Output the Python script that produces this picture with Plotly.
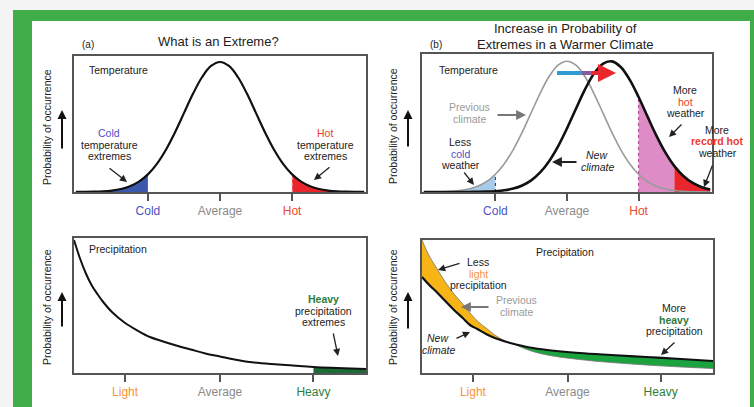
import plotly.graph_objects as go

W, H = 754, 407
FONT = "Liberation Sans, Arial, sans-serif"

# ---------------- data ----------------
temp_x = [-4.0, -3.75, -3.5, -3.25, -3.0, -2.75, -2.5, -2.25, -2.0, -1.75, -1.5, -1.25,
          -1.0, -0.75, -0.5, -0.25, 0.0, 0.25, 0.5, 0.75, 1.0, 1.25, 1.5, 1.75,
          2.0, 2.25, 2.5, 2.75, 3.0, 3.25, 3.5, 3.75, 4.0]
# previous / present-day temperature distribution
temp_prev = [0.0003, 0.0009, 0.0022, 0.0051, 0.0111, 0.0228, 0.0439, 0.0796, 0.1353, 0.2163,
             0.3247, 0.4578, 0.6065, 0.7548, 0.8825, 0.9692, 1.0, 0.9692, 0.8825, 0.7548,
             0.6065, 0.4578, 0.3247, 0.2163, 0.1353, 0.0796, 0.0439, 0.0228, 0.0111, 0.0051,
             0.0022, 0.0009, 0.0003]
# warmer (new) climate distribution
temp_new = [0.0, 0.0, 0.0, 0.0001, 0.0002, 0.0004, 0.0011, 0.0026, 0.0060, 0.0129,
            0.0261, 0.0497, 0.0889, 0.1494, 0.2357, 0.3493, 0.4868, 0.6368, 0.7827, 0.9037,
            0.9802, 0.9988, 0.9560, 0.8596, 0.7261, 0.5762, 0.4296, 0.3008, 0.1979, 0.1223,
            0.0710, 0.0387, 0.0198]
temp_tickvals = [-2, 0, 2]
temp_ticklabels = ["Cold", "Average", "Hot"]
temp_tickcolors = ["#4b52c4", "#8a8a8a", "#ee4a2c"]

precip_x_a = [0, 2, 4, 6, 8, 10, 13, 17.5, 22, 26, 30, 35, 40, 45, 50, 55, 60, 70, 82, 90, 100]
precip_a = [133, 115, 100, 88, 79, 71, 61, 50, 42, 36, 32, 27.5, 23.5, 19.5, 16.5, 13.5, 11,
            8.5, 6, 5, 4]

precip_x_b = [0, 2.5, 5, 8, 11, 14, 16.5, 19, 22, 25, 28, 31, 37, 43, 54, 65, 77, 89, 100]
precip_prev = [133, 117, 105, 91, 79, 69, 60, 52, 45, 38, 33, 29.5, 22.5, 18, 13.5, 10.5, 8, 6, 4.5]
precip_new = [96, 88, 81, 72, 63, 55, 48, 44, 39, 35, 32, 29.5, 25.5, 23, 20, 18, 16, 14, 12]
precip_tickvals = [17.5, 50, 82]
precip_ticklabels = ["Light", "Average", "Heavy"]
precip_tickcolors = ["#f7943a", "#8a8a8a", "#2e7d3c"]

# thresholds on the x grids
COLD_T, HOT_T, RECORD_T = -2.0, 2.0, 3.0
HEAVY_A = 82
CROSS_B = 31


def fx(px):
    return px / W


def fy(py):
    return 1 - py / H


fig = go.Figure()


def sub(xs, ys, cond):
    xx = [x for x in xs if cond(x)]
    yy = [y for x, y in zip(xs, ys) if cond(x)]
    return xx, yy


# ---------------- panel (a) temperature ----------------
xs, ys = sub(temp_x, temp_prev, lambda v: v <= COLD_T)
fig.add_trace(go.Scatter(x=xs, y=ys, xaxis="x", yaxis="y", mode="lines", line=dict(width=0, shape="spline"),
                         fill="tozeroy", fillcolor="#3b58ad"))
xs, ys = sub(temp_x, temp_prev, lambda v: v >= HOT_T)
fig.add_trace(go.Scatter(x=xs, y=ys, xaxis="x", yaxis="y", mode="lines", line=dict(width=0, shape="spline"),
                         fill="tozeroy", fillcolor="#e8262b"))
i2 = temp_x.index(HOT_T)
fig.add_trace(go.Scatter(x=[temp_x[i2], temp_x[i2]], y=[0, temp_prev[i2]], xaxis="x", yaxis="y", mode="lines",
                         line=dict(color="#f6b0b0", width=1, dash="dot")))
fig.add_trace(go.Scatter(x=temp_x, y=temp_prev, xaxis="x", yaxis="y", mode="lines",
                         line=dict(color="#111", width=2.2, shape="spline")))

# ---------------- panel (b) temperature ----------------
xs, ys = sub(temp_x, temp_prev, lambda v: v <= COLD_T)
fig.add_trace(go.Scatter(x=xs, y=ys, xaxis="x2", yaxis="y2", mode="lines", line=dict(width=0, shape="spline"),
                         fill="tozeroy", fillcolor="#a9cbea"))
xs, ys = sub(temp_x, temp_new, lambda v: HOT_T <= v <= RECORD_T)
fig.add_trace(go.Scatter(x=xs, y=ys, xaxis="x2", yaxis="y2", mode="lines", line=dict(width=0, shape="spline"),
                         fill="tozeroy", fillcolor="#de8cc6"))
xs, ys = sub(temp_x, temp_new, lambda v: v >= RECORD_T)
fig.add_trace(go.Scatter(x=xs, y=ys, xaxis="x2", yaxis="y2", mode="lines", line=dict(width=0, shape="spline"),
                         fill="tozeroy", fillcolor="#e8262b"))
ic = temp_x.index(COLD_T)
fig.add_trace(go.Scatter(x=[temp_x[ic], temp_x[ic]], y=[0, temp_prev[ic]], xaxis="x2", yaxis="y2", mode="lines",
                         line=dict(color="#333", width=1, dash="dot")))
fig.add_trace(go.Scatter(x=[temp_x[i2], temp_x[i2]], y=[0, temp_new[i2]], xaxis="x2", yaxis="y2", mode="lines",
                         line=dict(color="#b0368e", width=1, dash="dot")))
fig.add_trace(go.Scatter(x=temp_x, y=temp_prev, xaxis="x2", yaxis="y2", mode="lines",
                         line=dict(color="#9a9a9a", width=1.6, shape="spline")))
fig.add_trace(go.Scatter(x=temp_x, y=temp_new, xaxis="x2", yaxis="y2", mode="lines",
                         line=dict(color="#111", width=2.6, shape="spline")))

# ---------------- panel (a) precipitation ----------------
xs, ys = sub(precip_x_a, precip_a, lambda v: v >= HEAVY_A)
fig.add_trace(go.Scatter(x=xs, y=ys, xaxis="x3", yaxis="y3", mode="lines", line=dict(width=0, shape="spline"),
                         fill="tozeroy", fillcolor="#1d6b36"))
fig.add_trace(go.Scatter(x=precip_x_a, y=precip_a, xaxis="x3", yaxis="y3", mode="lines",
                         line=dict(color="#111", width=2, shape="spline")))

# ---------------- panel (b) precipitation ----------------
xs, ys = sub(precip_x_b, precip_new, lambda v: v <= CROSS_B)
fig.add_trace(go.Scatter(x=xs, y=ys, xaxis="x4", yaxis="y4", mode="lines", line=dict(width=0, shape="spline")))
xs, ys = sub(precip_x_b, precip_prev, lambda v: v <= CROSS_B)
fig.add_trace(go.Scatter(x=xs, y=ys, xaxis="x4", yaxis="y4", mode="lines", line=dict(width=0, shape="spline"),
                         fill="tonexty", fillcolor="#f6b417"))
xs, ys = sub(precip_x_b, precip_prev, lambda v: v >= CROSS_B)
fig.add_trace(go.Scatter(x=xs, y=ys, xaxis="x4", yaxis="y4", mode="lines", line=dict(width=0, shape="spline")))
xs, ys = sub(precip_x_b, precip_new, lambda v: v >= CROSS_B)
fig.add_trace(go.Scatter(x=xs, y=ys, xaxis="x4", yaxis="y4", mode="lines", line=dict(width=0, shape="spline"),
                         fill="tonexty", fillcolor="#1aa33e"))
fig.add_trace(go.Scatter(x=precip_x_b, y=precip_prev, xaxis="x4", yaxis="y4", mode="lines",
                         line=dict(color="#777", width=0.8, shape="spline")))
fig.add_trace(go.Scatter(x=precip_x_b, y=precip_new, xaxis="x4", yaxis="y4", mode="lines",
                         line=dict(color="#111", width=2.2, shape="spline")))


def colored(labels, colors):
    return [f"<span style='color:{c}'>{t}</span>" for t, c in zip(labels, colors)]


axis_common = dict(showline=True, mirror=True, linecolor="#555", linewidth=1.6, showgrid=False,
                   zeroline=False, fixedrange=True)
xcommon = dict(axis_common, ticks="outside", ticklen=7, tickwidth=1.6, tickcolor="#555",
               tickfont=dict(family=FONT, size=12))
ycommon = dict(axis_common, showticklabels=False, ticks="")

layout = dict(
    width=W, height=H, margin=dict(l=0, r=0, t=0, b=0), showlegend=False,
    paper_bgcolor="#f4f4f4", plot_bgcolor="rgba(0,0,0,0)",
    font=dict(family=FONT, color="#222"),
    xaxis=dict(xcommon, domain=[fx(74), fx(366)], range=[-4.05, 4.05], anchor="y",
               tickvals=temp_tickvals, ticktext=colored(temp_ticklabels, temp_tickcolors)),
    yaxis=dict(ycommon, domain=[fy(192), fy(56)], range=[0, 1.046], anchor="x"),
    xaxis2=dict(xcommon, domain=[fx(422), fx(712)], range=[-4.05, 4.05], anchor="y2",
                tickvals=temp_tickvals, ticktext=colored(temp_ticklabels, temp_tickcolors)),
    yaxis2=dict(ycommon, domain=[fy(192), fy(54)], range=[0, 1.055], anchor="x2"),
    xaxis3=dict(xcommon, domain=[fx(74), fx(366)], range=[0, 100], anchor="y3",
                tickvals=precip_tickvals, ticktext=colored(precip_ticklabels, precip_tickcolors)),
    yaxis3=dict(ycommon, domain=[fy(373), fy(238)], range=[0, 135], anchor="x3"),
    xaxis4=dict(xcommon, domain=[fx(422), fx(713)], range=[0, 100], anchor="y4",
                tickvals=precip_tickvals, ticktext=colored(precip_ticklabels, precip_tickcolors)),
    yaxis4=dict(ycommon, domain=[fy(373), fy(240)], range=[0, 133], anchor="x4"),
)

shapes = [
    dict(type="rect", xref="paper", yref="paper", x0=fx(13), x1=fx(754), y0=0, y1=fy(10),
         fillcolor="#3fae49", line=dict(width=0), layer="below"),
    dict(type="rect", xref="paper", yref="paper", x0=fx(32), x1=fx(750), y0=0, y1=fy(21),
         fillcolor="#ffffff", line=dict(width=0), layer="below"),
    # blue part of the warming shift arrow
    dict(type="line", xref="paper", yref="paper", x0=fx(557), x1=fx(584), y0=fy(73), y1=fy(73),
         line=dict(color="#2f9bd3", width=4)),
    dict(type="line", xref="paper", yref="paper", x0=fx(582), x1=fx(592), y0=fy(73), y1=fy(73),
         line=dict(color="#8a5a9a", width=4)),
]

anns = []


def txt(x, y, s, size=10.5, color="#222", anchor="center", **kw):
    anns.append(dict(x=fx(x), y=fy(y), xref="paper", yref="paper", text=s, showarrow=False,
                     font=dict(family=FONT, size=size, color=color), xanchor=anchor, yanchor="middle", **kw))


def lines(x, y0, items, step=11.5, size=10.5):
    for k, it in enumerate(items):
        if isinstance(it, tuple):
            s, c = it
        else:
            s, c = it, "#222"
        txt(x, y0 + k * step, s, size=size, color=c)


def arrow(x0, y0, x1, y1, color="#222", width=1.3, size=1.1):
    anns.append(dict(x=fx(x1), y=fy(y1), xref="paper", yref="paper", ax=x0 - x1, ay=y0 - y1,
                     text="", showarrow=True, arrowhead=2, arrowsize=size, arrowwidth=width,
                     arrowcolor=color))


# titles
txt(80, 44, "(a)", size=10, anchor="left")
txt(218, 42, "What is an Extreme?", size=13)
txt(428, 44, "(b)", size=10, anchor="left")
txt(565, 29, "Increase in Probability of", size=13)
txt(565, 45, "Extremes in a Warmer Climate", size=13)

# y labels and arrows
for (xl, yc, xa, ya0, ya1) in [(47, 127, 62, 150, 110), (47, 307, 62, 328, 292),
                                (393, 126, 408, 148, 110), (393, 307, 408, 330, 292)]:
    txt(xl, yc, "Probability of occurrence", size=10.5, textangle=-90)
    arrow(xa, ya0, xa, ya1, color="#111", width=2, size=0.9)

# panel (a) temperature
txt(87, 70, "Temperature", size=10.5, anchor="left")
lines(109, 133, [("Cold", "#4b52c4"), "temperature", "extremes"])
arrow(108, 167, 127, 182)
lines(325, 133, [("Hot", "#ee3b2c"), "temperature", "extremes"])
arrow(331, 166, 314, 180)

# panel (a) precipitation
txt(87, 249, "Precipitation", size=10.5, anchor="left")
lines(323, 299, [("<b>Heavy</b>", "#2e7d3c"), "precipitation", "extremes"])
arrow(333, 332, 338, 356)

# panel (b) temperature
txt(437, 70, "Temperature", size=10.5, anchor="left")
lines(470, 107, [("Previous", "#9a9a9a"), ("climate", "#9a9a9a")])
arrow(496, 115, 526, 115, color="#777", width=1.8)
lines(460, 142, ["Less", ("cold", "#4b52c4"), "weather"])
arrow(463, 171, 474, 185)
lines(597, 155, ["<i>New</i>", "<i>climate</i>"])
arrow(578, 162, 552, 162, width=1.8)
lines(685, 90, ["More", ("hot", "#ee3b2c"), "weather"])
arrow(683, 123, 669, 137)
lines(717, 130, ["More", ("<b>record hot</b>", "#ee3b2c"), "weather"])
arrow(713, 164, 704, 187)
# warming shift arrow head (red)
anns.append(dict(x=fx(616), y=fy(73), xref="paper", yref="paper", ax=-26, ay=0, text="",
                 showarrow=True, arrowhead=2, arrowsize=0.9, arrowwidth=4, arrowcolor="#e8262b"))

# panel (b) precipitation
txt(565, 252, "Precipitation", size=10.5)
lines(478, 262, ["Less", ("light", "#f7943a"), "precipitation"])
arrow(461, 263, 438, 270)
lines(516, 300, [("Previous", "#9a9a9a"), ("climate", "#9a9a9a")])
arrow(490, 307, 461, 307, color="#777", width=1.8)
lines(438, 338, ["<i>New</i>", "<i>climate</i>"])
arrow(455, 339, 470, 332)
lines(674, 308, ["More", ("<b>heavy</b>", "#2e7d3c"), "precipitation"])
arrow(676, 341, 661, 355)

layout["shapes"] = shapes
layout["annotations"] = anns
fig.update_layout(**layout)
fig.write_html("out.html", config={"displayModeBar": False},
               post_script="document.body.style.margin='0';document.body.style.padding='0';")
